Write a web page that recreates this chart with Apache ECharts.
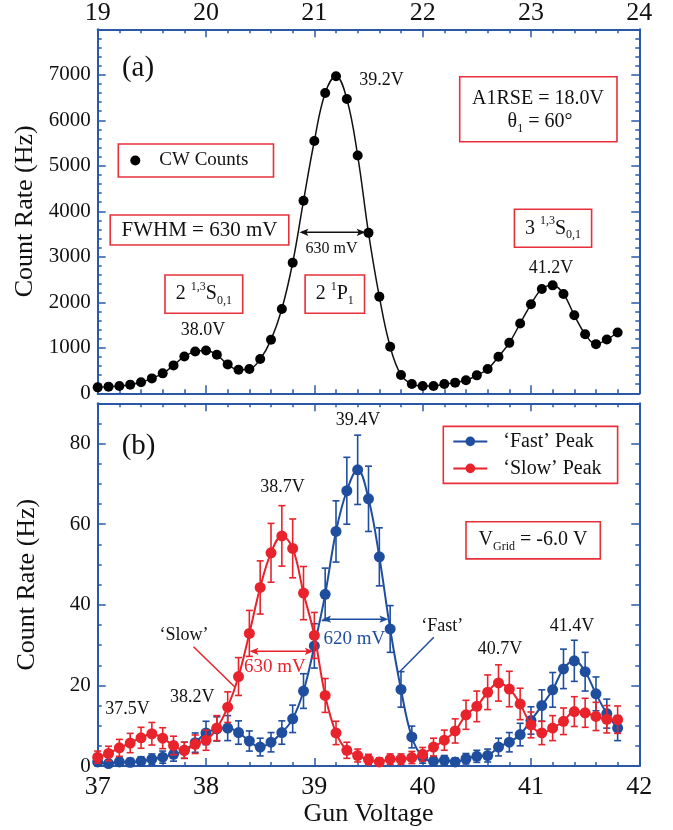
<!DOCTYPE html>
<html><head><meta charset="utf-8">
<script src="https://cdn.jsdelivr.net/npm/echarts@6/dist/echarts.min.js"></script>
<style>html,body{margin:0;padding:0;background:#fff}#c{width:673px;height:830px}</style>
</head><body><div id="c"></div>
<script>
// ---------- data ----------
const voltages = [37.0,37.1,37.2,37.3,37.4,37.5,37.6,37.7,37.8,37.9,
  38.0,38.1,38.2,38.3,38.4,38.5,38.6,38.7,38.8,38.9,
  39.0,39.1,39.2,39.3,39.4,39.5,39.6,39.7,39.8,39.9,
  40.0,40.1,40.2,40.3,40.4,40.5,40.6,40.7,40.8,40.9,
  41.0,41.1,41.2,41.3,41.4,41.5,41.6,41.7,41.8];
const cwCounts = [131,146,160,190,241,328,438,613,810,920,
  942,847,635,518,533,752,1175,1854,2869,4230,
  5545,6600,6970,6469,5225,3526,2124,1022,401,204,
  160,160,204,234,285,394,533,803,1109,1533,
  1956,2292,2372,2182,1715,1299,1080,1182,1336];
const fastPeak = [1.0,0.6,1.0,0.9,1.2,1.7,2.2,2.9,3.9,5.8,
  8.2,9.2,9.4,8.3,6.2,4.7,5.9,8.3,11.7,18.6,
  29.8,42.6,58.2,68.3,73.5,66.3,51.9,34.0,19.0,7.2,
  2.2,1.2,1.4,1.0,1.8,2.4,2.6,4.7,5.9,7.8,
  11.3,15.0,18.9,24.1,26.1,23.4,17.9,13.0,9.4];
const fastErr = [1.0,0.8,1.0,1.0,1.1,1.3,1.5,1.7,2.0,2.4,
  2.9,3.0,3.1,2.9,2.5,2.2,2.4,2.9,3.4,4.3,
  5.5,6.5,7.6,8.3,8.6,8.1,7.2,5.8,4.4,2.7,
  1.5,1.1,1.2,1.0,1.3,1.5,1.6,2.2,2.4,2.8,
  3.4,3.9,4.3,4.9,5.1,4.8,4.2,3.6,3.1];
const slowPeak = [2.2,3.1,4.5,5.7,7.0,8.0,6.9,5.1,3.9,5.4,
  6.4,9.4,14.6,22.2,32.9,44.3,52.9,57.1,54.0,42.9,
  32.4,17.5,8.2,3.9,2.6,1.6,1.0,1.7,1.7,2.1,
  2.9,4.7,6.4,8.7,12.7,14.8,18.3,20.6,19.1,15.4,
  10.2,8.2,9.4,11.1,13.5,13.2,12.3,11.6,11.5];
const slowErr = [1.5,1.8,2.1,2.4,2.6,2.8,2.6,2.3,2.0,2.3,
  2.5,3.1,3.8,4.7,5.7,6.6,7.3,7.5,7.3,6.6,
  5.7,4.2,2.9,2.0,1.6,1.3,1.0,1.3,1.3,1.5,
  1.7,2.2,2.5,3.0,3.6,3.8,4.3,4.5,4.4,3.9,
  3.2,2.9,3.1,3.3,3.7,3.6,3.5,3.4,3.4];
const gunTickLabels = [37,38,39,40,41,42];
const topTickLabels = [19,20,21,22,23,24];
const cwTickLabels = [0,1000,2000,3000,4000,5000,6000,7000];
const peakTickLabels = [0,20,40,60,80];

// ---------- style ----------
const FONT = 'Liberation Serif';
const AX = '#2a58ab';
const BOXRED = '#e8303a';
const BLUE = '#1f4e9f';
const RED = '#e8232c';
const INK = '#111';

const cwPairs = voltages.map((v, i) => [v, cwCounts[i]]);
const fastPairs = voltages.map((v, i) => [v, fastPeak[i]]);
const slowPairs = voltages.map((v, i) => [v, slowPeak[i]]);
const fastErrData = voltages.map((v, i) => [v, fastPeak[i], fastErr[i]]);
const slowErrData = voltages.map((v, i) => [v, slowPeak[i], slowErr[i]]);

const lineSt = {color: AX, width: 2};
const tickSt = {color: AX, width: 1.5};
function fmt(list) { return v => (list.indexOf(Math.round(v * 1000) / 1000) >= 0 ? String(v) : ''); }

function xAx(grid, min, max, pos, labels, size, margin, extra) {
  return Object.assign({
    type: 'value', gridIndex: grid, min: min, max: max, interval: 1, position: pos,
    axisLine: {show: true, onZero: false, lineStyle: lineSt},
    axisTick: {show: true, inside: true, length: 8, lineStyle: tickSt},
    minorTick: {show: true, splitNumber: 5, length: 4, lineStyle: tickSt},
    axisLabel: labels ? {show: true, formatter: fmt(labels), fontFamily: FONT, fontSize: size, color: INK, margin: margin, showMinLabel: true, showMaxLabel: true, hideOverlap: false} : {show: false},
    splitLine: {show: false}, minorSplitLine: {show: false}
  }, extra || {});
}
function yAx(grid, max, interval, pos, labels, tickLen, minorSplit, showLine, extra) {
  return Object.assign({
    type: 'value', gridIndex: grid, min: 0, max: max, interval: interval, position: pos,
    axisLine: {show: showLine, onZero: false, lineStyle: lineSt},
    axisTick: {show: true, inside: true, length: tickLen, lineStyle: tickSt},
    minorTick: {show: minorSplit > 0, splitNumber: minorSplit || 5, length: 4, lineStyle: tickSt},
    axisLabel: labels ? {show: true, formatter: fmt(labels), fontFamily: FONT, fontSize: 21, color: INK, margin: 7, hideOverlap: false} : {show: false},
    splitLine: {show: false}, minorSplitLine: {show: false}
  }, extra || {});
}
const yName = {name: 'Count Rate (Hz)', nameLocation: 'middle', nameGap: 58, nameRotate: 90,
  nameTextStyle: {fontFamily: FONT, fontSize: 26, color: INK}};

function errRender(color) {
  return function (params, api) {
    const x = api.value(0), y = api.value(1), e = api.value(2);
    const hi = api.coord([x, y + e]), lo = api.coord([x, y - e]);
    const w = 3.5, st = {stroke: color, lineWidth: 1.6};
    return {type: 'group', children: [
      {type: 'line', shape: {x1: hi[0], y1: hi[1], x2: lo[0], y2: lo[1]}, style: st},
      {type: 'line', shape: {x1: hi[0] - w, y1: hi[1], x2: hi[0] + w, y2: hi[1]}, style: st},
      {type: 'line', shape: {x1: lo[0] - w, y1: lo[1], x2: lo[0] + w, y2: lo[1]}, style: st}
    ]};
  };
}

// ---------- annotations ----------
function txt(x, y, s, size, color, extra) {
  return {type: 'text', x: x, y: y, z: 100, style: Object.assign({text: s, fontFamily: FONT, fontSize: size, fill: color || INK, align: 'center', verticalAlign: 'middle'}, extra || {})};
}
function box(x1, y1, x2, y2) {
  return {type: 'rect', z: 100, shape: {x: x1, y: y1, width: x2 - x1, height: y2 - y1}, style: {fill: 'none', stroke: BOXRED, lineWidth: 1.6}};
}
function seg(x1, y1, x2, y2, color) {
  return {type: 'line', z: 100, shape: {x1: x1, y1: y1, x2: x2, y2: y2}, style: {stroke: color, lineWidth: 1.5}};
}
function darrow(x1, x2, y, color) {
  const L = 9, H = 3.6;
  return {type: 'group', z: 100, children: [
    {type: 'line', shape: {x1: x1 + 3, y1: y, x2: x2 - 3, y2: y}, style: {stroke: color, lineWidth: 1.5}},
    {type: 'polygon', shape: {points: [[x1, y], [x1 + L, y - H], [x1 + L - 2, y], [x1 + L, y + H]]}, style: {fill: color}},
    {type: 'polygon', shape: {points: [[x2, y], [x2 - L, y - H], [x2 - L + 2, y], [x2 - L, y + H]]}, style: {fill: color}}
  ]};
}
const rich = {
  sup: {fontFamily: FONT, fontSize: 12, fill: INK, verticalAlign: 'top', lineHeight: 16},
  sub: {fontFamily: FONT, fontSize: 12, fill: INK, verticalAlign: 'bottom', lineHeight: 10}
};
function term(x, y, s) { return txt(x, y, s, 20, INK, {rich: rich, lineHeight: 26}); }

const graphics = [
  // panel (a)
  txt(138, 68.3, '(a)', 29),
  txt(381.4, 80, '39.2V', 18),
  box(459.7, 76.7, 617, 141.7),
  txt(538, 98.3, 'A1RSE = 18.0V', 20),
  term(540, 121.7, '\u03b8{sub|1} = 60\u00b0'),
  box(110.2, 215, 288.8, 245),
  txt(199.5, 230, 'FWHM = 630 mV', 21),
  darrow(299.4, 365.7, 232.3, INK),
  txt(331.6, 248.3, '630 mV', 16),
  box(165, 275, 242.7, 313.3),
  term(203.9, 294, '2 {sup|1,3}S{sub|0,1}'),
  txt(202.9, 330, '38.0V', 18),
  box(305.1, 275, 364.5, 313.3),
  term(334.8, 294, '2 {sup|1}P{sub|1}'),
  box(514.4, 209.3, 591.6, 247.3),
  term(553, 228.3, '3 {sup|1,3}S{sub|0,1}'),
  txt(551.1, 268.3, '41.2V', 18),
  // panel (b)
  txt(138.6, 446, '(b)', 29),
  txt(358.1, 419.8, '39.4V', 18),
  txt(282.4, 487, '38.7V', 18),
  box(466, 521.8, 600.3, 558.9),
  term(533, 540, 'V{sub|Grid} = -6.0 V'),
  txt(184, 635, '\u2018Slow\u2019', 18),
  seg(193.5, 646.7, 235.1, 687.3, RED),
  darrow(249.5, 313.8, 651.3, RED),
  txt(274.8, 666.7, '630 mV', 19, RED),
  darrow(322.1, 388.4, 619.2, BLUE),
  txt(354.3, 639.3, '620 mV', 19, BLUE),
  txt(442.3, 626.7, '\u2018Fast\u2019', 18),
  seg(433.8, 637.3, 399.7, 671.7, BLUE),
  txt(500, 649, '40.7V', 18),
  txt(572, 626.5, '41.4V', 18),
  txt(192.3, 697, '38.2V', 18),
  txt(127.6, 709, '37.5V', 18)
];

const chart = echarts.init(document.getElementById('c'), null, {renderer: 'canvas'});
chart.setOption({
  animation: false,
  backgroundColor: '#fff',
  grid: [
    {left: 97.7, top: 29.3, width: 541.6, height: 364},
    {left: 97.7, top: 403.3, width: 541.6, height: 362.7}
  ],
  xAxis: [
    xAx(0, 37, 42, 'bottom', null),
    xAx(0, 19, 24, 'top', topTickLabels, 26, 3),
    xAx(1, 37, 42, 'bottom', gunTickLabels, 26, 8, {name: 'Gun Voltage', nameLocation: 'middle', nameGap: 33,
      nameTextStyle: {fontFamily: FONT, fontSize: 26, color: INK}}),
    xAx(1, 37, 42, 'top', null)
  ],
  yAxis: [
    yAx(0, 8000, 1000, 'left', cwTickLabels, 8, 5, true, yName),
    yAx(0, 8000, 1000, 'right', null, 8, 5, true),
    yAx(1, 90, 20, 'left', peakTickLabels, 8, 0, true, yName),
    yAx(1, 90, 5, 'left', null, 4, 0, false),
    yAx(1, 90, 20, 'right', null, 8, 0, true),
    yAx(1, 90, 5, 'right', null, 4, 0, false)
  ],
  legend: [
    {data: ['CW Counts'], left: 118.3, top: 144, orient: 'vertical',
      borderColor: BOXRED, borderWidth: 1.6, padding: [7, 25, 7, 12],
      itemWidth: 14, itemHeight: 10,
      textStyle: {fontFamily: FONT, fontSize: 19, color: INK, padding: [0, 0, 0, 12]}},
    {data: ['\u2018Fast\u2019 Peak', '\u2018Slow\u2019 Peak'], left: 443.3, top: 426.4, orient: 'vertical',
      borderColor: BOXRED, borderWidth: 1.6, padding: [5, 16, 5, 9], itemGap: 7,
      itemWidth: 34, itemHeight: 12,
      textStyle: {fontFamily: FONT, fontSize: 20, color: INK, padding: [0, 0, 0, 11]}}
  ],
  series: [
    {type: 'line', xAxisIndex: 0, yAxisIndex: 0, data: cwPairs, smooth: 0.4, showSymbol: false,
      lineStyle: {color: INK, width: 1.5}, itemStyle: {color: INK}, silent: true, z: 2},
    {name: 'CW Counts', type: 'scatter', xAxisIndex: 0, yAxisIndex: 0, data: cwPairs, symbol: 'circle', symbolSize: 10,
      itemStyle: {color: '#000', opacity: 1}, z: 3},
    {type: 'custom', xAxisIndex: 2, yAxisIndex: 2, data: fastErrData, renderItem: errRender(BLUE), z: 2, silent: true},
    {name: '\u2018Fast\u2019 Peak', type: 'line', xAxisIndex: 2, yAxisIndex: 2, data: fastPairs, smooth: 0.4,
      symbol: 'circle', symbolSize: 11, lineStyle: {color: BLUE, width: 2}, itemStyle: {color: BLUE, opacity: 1}, z: 3},
    {type: 'custom', xAxisIndex: 2, yAxisIndex: 2, data: slowErrData, renderItem: errRender(RED), z: 4, silent: true},
    {name: '\u2018Slow\u2019 Peak', type: 'line', xAxisIndex: 2, yAxisIndex: 2, data: slowPairs, smooth: 0.4,
      symbol: 'circle', symbolSize: 11, lineStyle: {color: RED, width: 2}, itemStyle: {color: RED, opacity: 1}, z: 5}
  ],
  graphic: graphics
});
</script></body></html>
